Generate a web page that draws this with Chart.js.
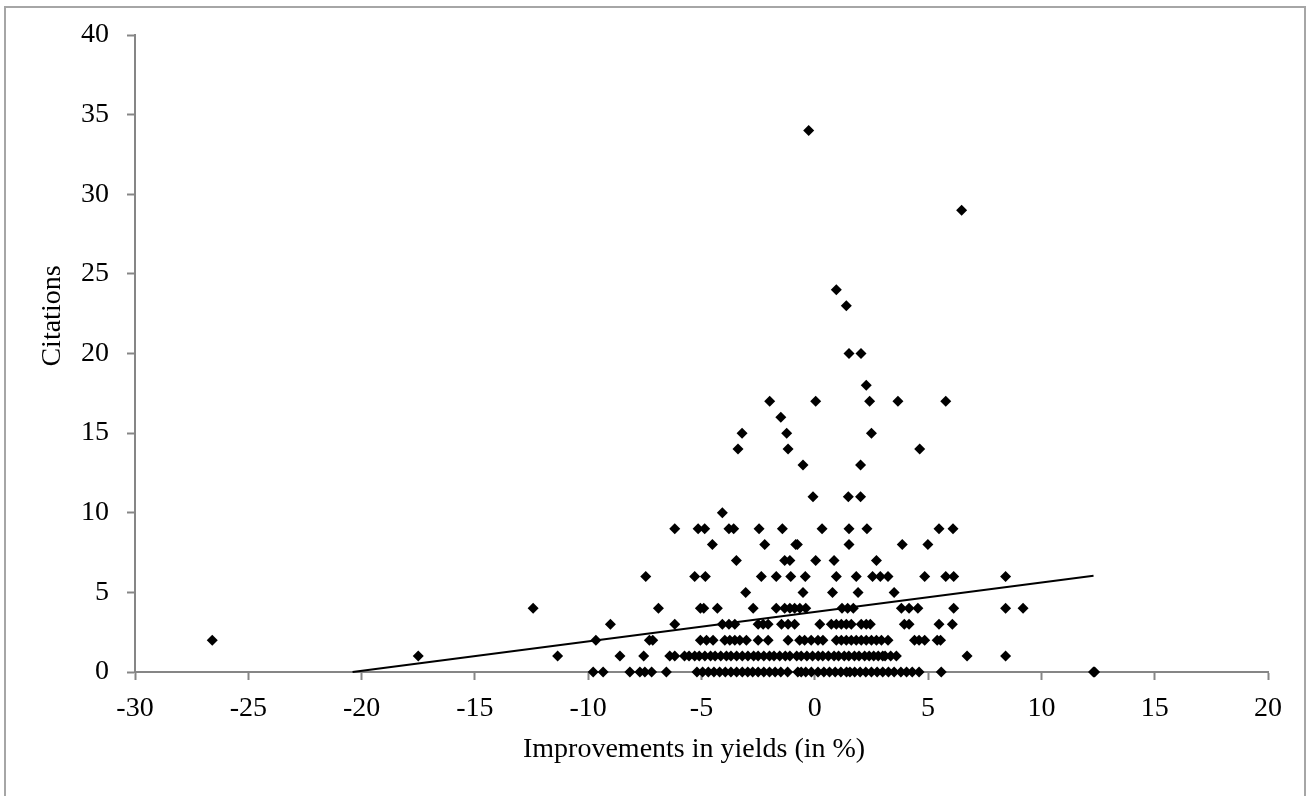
<!DOCTYPE html>
<html>
<head>
<meta charset="utf-8">
<title>Citations vs improvements in yields</title>
<script src="https://cdn.jsdelivr.net/npm/chart.js@4.4.0/dist/chart.umd.min.js"></script>
<style>
  html, body { margin: 0; padding: 0; background: #fff; overflow: hidden; }
  #wrap { position: relative; width: 1309px; height: 796px; }
  #frame { position: absolute; left: 4px; top: 6px; width: 1302px; height: 820px; border: 2px solid #a6a6a6; box-sizing: border-box; }
  #chart { position: absolute; left: 0; top: 0; }
</style>
</head>
<body>
<div id="wrap">
  <div id="frame"></div>
  <canvas id="chart" width="1309" height="796"></canvas>
</div>
<script>
// Improvement in yields (%) of each paper, grouped by its number of citations
const yieldsCited0 = [-9.78, -9.34, -8.16, -7.72, -7.5, -7.2, -6.55, -5.2, -4.95, -4.7, -4.45, -4.2, -3.95, -3.7, -3.45, -3.2, -2.96,
  -2.74, -2.5, -2.25, -2.0, -1.75, -1.5, -1.2, -0.75, -0.6, -0.4, -0.15, 0.14, 0.4, 0.65, 0.9, 1.15, 1.4, 1.55,
  1.76, 2.0, 2.25, 2.5, 2.75, 3.0, 3.25, 3.5, 3.8, 4.05, 4.3, 4.6, 5.58, 12.3, 12.35];
const yieldsCited1 = [-17.5, -11.35, -8.6, -7.55, -6.4, -6.18, -5.75, -5.55, -5.3, -5.1, -4.85, -4.6, -4.4, -4.15, -3.9, -3.7,
  -3.45, -3.2, -2.95, -2.7, -2.5, -2.25, -2.0, -1.8, -1.55, -1.3, -1.1, -0.8, -0.6, -0.35, -0.1, 0.15, 0.35, 0.6, 0.85,
  1.05, 1.3, 1.5, 1.75, 1.95, 2.2, 2.4, 2.6, 2.8, 3.0, 3.1, 3.35, 3.6, 6.72, 8.42];
const yieldsCited2 = [-26.59, -9.66, -7.3, -7.15, -5.05, -4.78, -4.49, -3.97, -3.75, -3.53, -3.31, -3.02, -2.5, -2.06,
  -1.18, -0.67, -0.45, -0.16, 0.14, 0.36, 0.95, 1.17, 1.39, 1.61, 1.83, 2.05, 2.27, 2.5, 2.72, 2.94, 3.23, 4.4, 4.6,
  4.85, 5.4, 5.55];
const yieldsCited3 = [-9.02, -6.18, -4.08, -3.79, -3.53, -2.5, -2.28, -2.06, -1.47, -1.18, -0.89, 0.22, 0.73, 0.95, 1.17,
  1.39, 1.61, 2.05, 2.27, 2.45, 3.95, 4.16, 5.48, 6.07];
const yieldsCited4 = [-12.43, -6.9, -5.05, -4.9, -4.3, -2.72, -1.7, -1.33, -1.1, -0.89, -0.66, -0.4, 1.2, 1.45, 1.7,
  3.82, 4.16, 4.55, 6.13, 8.42, 9.19];
const yieldsCited5 = [-3.05, -0.52, 0.78, 1.91, 3.5];
const yieldsCited6 = [-7.46, -5.3, -4.83, -2.36, -1.7, -1.06, -0.42, 0.95, 1.83, 2.55, 2.89, 3.23, 4.85, 5.78, 6.13, 8.42];
const yieldsCited7 = [-3.46, -1.33, -1.1, 0.04, 0.85, 2.72];
const yieldsCited8 = [-4.52, -2.21, -0.84, -0.77, 1.51, 3.86, 4.99];
const yieldsCited9 = [-6.18, -5.15, -4.86, -3.79, -3.58, -2.46, -1.43, 0.32, 1.51, 2.3, 5.48, 6.1];

// the few papers with 10 or more citations
const highYields =    [-4.08, -0.08, 1.48, 2.02, -0.52, 2.02, -3.39, -1.18, 4.63, -3.21, -1.24, 2.5, -1.5,
  -1.99, 0.04, 2.42, 3.67, 5.78, 2.27, 1.51, 2.04, 1.39, 0.95, 6.48, -0.27];
const highCitations = [10, 11, 11, 11, 13, 13, 14, 14, 14, 15, 15, 15, 16,
  17, 17, 17, 17, 17, 18, 20, 20, 23, 24, 29, 34];

// linear trend line (Excel clips it where it meets 0 citations)
const trendYields = [-20.4, 12.3];
const trendCitations = [0, 6.05];

const xTitle = 'Improvements in yields (in %)';
const yTitle = 'Citations';

const serif = '"Liberation Serif", "Times New Roman", serif';
const axisGrey = '#868686';

function buildPoints() {
  const rows = [yieldsCited0, yieldsCited1, yieldsCited2, yieldsCited3, yieldsCited4,
    yieldsCited5, yieldsCited6, yieldsCited7, yieldsCited8, yieldsCited9];
  const pts = [];
  rows.forEach((xs, citations) => {
    xs.forEach(x => pts.push({x: x, y: citations}));
  });
  highYields.forEach((x, i) => pts.push({x: x, y: highCitations[i]}));
  return pts;
}

// axis titles, placed the way Excel placed them
const axisTitles = {
  id: 'axisTitles',
  afterDraw(chart) {
    const ctx = chart.ctx;
    ctx.save();
    ctx.fillStyle = '#000';
    ctx.font = '28px ' + serif;
    ctx.textBaseline = 'alphabetic';
    ctx.textAlign = 'left';
    ctx.fillText(xTitle, 523, 757);
    ctx.translate(60, 316);
    ctx.rotate(-Math.PI / 2);
    ctx.textAlign = 'center';
    ctx.fillText(yTitle, 0, 0);
    ctx.restore();
  }
};

const tickFont = {family: serif, size: 28};

new Chart(document.getElementById('chart').getContext('2d'), {
  type: 'scatter',
  data: {
    datasets: [{
      label: 'Trend',
      data: trendYields.map((x, i) => ({x: x, y: trendCitations[i]})),
      showLine: true,
      borderColor: '#000',
      borderWidth: 2,
      pointRadius: 0,
      clip: false
    }, {
      label: 'Citations',
      data: buildPoints(),
      pointStyle: 'rectRot',
      pointRadius: 5.5,
      backgroundColor: '#000',
      borderColor: '#000',
      borderWidth: 0,
      clip: false
    }]
  },
  options: {
    responsive: false,
    animation: false,
    layout: {padding: {top: 35, right: 41, left: 0, bottom: 0}},
    plugins: {
      legend: {display: false},
      tooltip: {enabled: false}
    },
    scales: {
      x: {
        type: 'linear',
        min: -30,
        max: 20,
        ticks: {stepSize: 5, padding: 12, color: '#000', font: tickFont},
        grid: {drawOnChartArea: false, drawTicks: true, tickLength: 8, tickWidth: 2, color: axisGrey},
        border: {display: true, color: axisGrey, width: 2},
        afterFit(scale) { scale.height = 124; }
      },
      y: {
        type: 'linear',
        min: 0,
        max: 40,
        ticks: {stepSize: 5, padding: 18, color: '#000', font: tickFont},
        grid: {drawOnChartArea: false, drawTicks: true, tickLength: 8, tickWidth: 2, color: axisGrey},
        border: {display: true, color: axisGrey, width: 2},
        afterFit(scale) { scale.width = 135; }
      }
    }
  },
  plugins: [axisTitles]
});
</script>
</body>
</html>
